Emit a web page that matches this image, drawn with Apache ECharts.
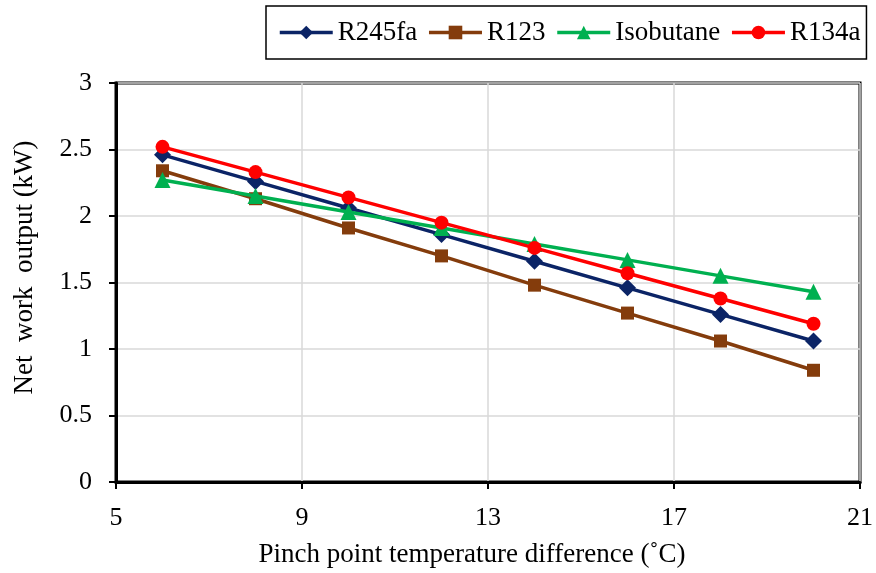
<!DOCTYPE html>
<html>
<head>
<meta charset="utf-8">
<script src="https://cdn.jsdelivr.net/npm/echarts@6/dist/echarts.min.js"></script>
<style>html,body{margin:0;padding:0;background:#fff;}#c{width:876px;height:573px;}</style>
</head>
<body>
<div id="c"></div>
<script>
const xValues = [6, 8, 10, 12, 14, 16, 18, 20];
const r245fa = [2.46, 2.26, 2.06, 1.86, 1.66, 1.46, 1.26, 1.06];
const r123 = [2.34, 2.13, 1.91, 1.70, 1.48, 1.27, 1.06, 0.84];
const isobutane = [2.27, 2.15, 2.03, 1.91, 1.79, 1.67, 1.55, 1.43];
const r134a = [2.52, 2.33, 2.14, 1.95, 1.76, 1.57, 1.38, 1.19];
const seriesNames = ['R245fa', 'R123', 'Isobutane', 'R134a'];
const seriesColors = ['#0b2466', '#843c0c', '#00b050', '#ff0000'];
const seriesSymbols = ['diamond', 'rect', 'triangle', 'circle'];
const seriesSizes = [17, 13, 16, 14];
const allData = [r245fa, r123, isobutane, r134a];

const font = 'Liberation Serif, Times New Roman, serif';
const chart = echarts.init(document.getElementById('c'));
chart.setOption({
  backgroundColor: '#fff',
  animation: false,
  grid: { left: 116, right: 14, top: 83, bottom: 91, show: true, borderColor: '#000', borderWidth: 3 },
  legend: {
    left: 266, top: 6,
    padding: [13, 6, 13, 12],
    borderColor: '#000', borderWidth: 1.5,
    itemWidth: 53, itemHeight: 17, itemGap: 10,
    lineStyle: { width: 3.5 },
    textStyle: { fontFamily: font, fontSize: 27, color: '#000' },
    data: seriesNames
  },
  xAxis: {
    type: 'value', min: 5, max: 21, interval: 4,
    name: 'Pinch point temperature difference (˚C)', nameLocation: 'middle', nameGap: 59,
    nameTextStyle: { fontFamily: font, fontSize: 27, color: '#000', padding: [0, 32, 0, 0] },
    axisLine: { lineStyle: { color: '#000', width: 3 } },
    axisTick: { show: true, length: 7, inside: false, lineStyle: { color: '#000', width: 2 } },
    axisLabel: { fontFamily: font, fontSize: 26, color: '#000', margin: 23 },
    splitLine: { show: true, lineStyle: { color: '#d9d9d9', width: 1.5 } }
  },
  yAxis: {
    type: 'value', min: 0, max: 3, interval: 0.5,
    name: 'Net  work  output (kW)', nameLocation: 'middle', nameGap: 78, nameRotate: 90,
    nameTextStyle: { fontFamily: font, fontSize: 27, color: '#000', padding: [0, 0, 0, 30] },
    axisLine: { show: true, lineStyle: { color: '#000', width: 3 } },
    axisTick: { show: true, length: 7, lineStyle: { color: '#000', width: 2 } },
    axisLabel: { fontFamily: font, fontSize: 26, color: '#000', margin: 24 },
    splitLine: { show: true, lineStyle: { color: '#d9d9d9', width: 1.5 } }
  },
  series: seriesNames.map((n, i) => ({
    name: n, type: 'line',
    data: xValues.map((x, j) => [x, allData[i][j]]),
    symbol: seriesSymbols[i], symbolSize: seriesSizes[i],
    itemStyle: { color: seriesColors[i] },
    lineStyle: { color: seriesColors[i], width: 3.5 },
    z: 2 + i
  }))
});
</script>
</body>
</html>
